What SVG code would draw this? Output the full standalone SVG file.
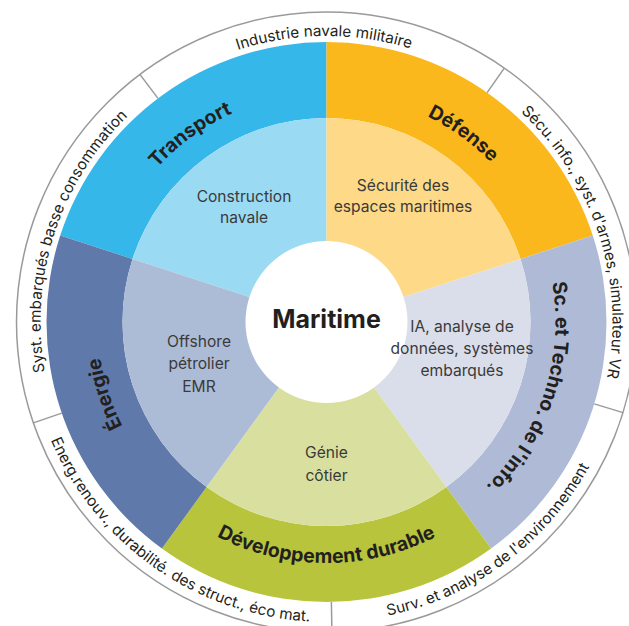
<svg xmlns="http://www.w3.org/2000/svg" width="629" height="626" viewBox="0 0 629 626">
<style>
.cat{font-family:Inter,"Liberation Sans",sans-serif;font-weight:700;font-size:19.5px;fill:#231f20}
.sub{font-family:Inter,"Liberation Sans",sans-serif;font-size:15.6px;fill:#3a3a3a;text-anchor:middle}
.out{font-family:Inter,"Liberation Sans",sans-serif;font-size:15.3px;fill:#231f20}
.sep{stroke:#9a9a9a;stroke-width:1.5;fill:none}
</style>
<defs>
<path id="pTransport" d="M 98.755 345.937 A 229 229 0 0 1 419.643 112.798"/>
<path id="pDefense" d="M 233.357 112.798 A 229 229 0 0 1 554.245 345.937"/>
<path id="pSc" d="M 496.680 168.769 A 229 229 0 0 1 374.112 545.996"/>
<path id="pEnergie" d="M 278.888 545.996 A 229 229 0 0 1 156.320 168.769"/>
<path id="pDev" d="M 117.788 442.5 A 241 241 0 0 0 535.212 442.5"/>
<path id="pIndustrie" d="M 44.422 274.796 A 286 286 0 0 1 607.711 269.881"/>
<path id="pSecu" d="M 286.697 38.783 A 286 286 0 0 1 460.769 574.523"/>
<path id="pSyst" d="M 192.231 574.523 A 286 286 0 0 1 366.303 38.783"/>
<path id="pSurv" d="M 119.993 539.612 A 300 300 0 0 0 594.980 188.141"/>
<path id="pEnerg" d="M 54.608 195.215 A 300 300 0 0 0 538.632 534.132"/>
</defs>

<g id="outer-ring">
<circle cx="326.5" cy="322" r="310" fill="#ffffff" stroke="#9a9a9a" stroke-width="1.5"/>
</g>

<g id="connectors">
<line class="sep" x1="157.992" y1="98.382" x2="139.9" y2="74.4"/>
<line class="sep" x1="487.101" y1="92.637" x2="504.3" y2="68.1"/>
<line class="sep" x1="594.265" y1="403.864" x2="623.0" y2="412.6"/>
<line class="sep" x1="331.387" y1="601.957" x2="331.9" y2="632"/>
<line class="sep" x1="61.755" y1="413.159" x2="33.4" y2="422.9"/>
</g>

<g id="maritime">
<circle cx="326.5" cy="322" r="81" fill="#ffffff"/>
<text x="326.5" y="327.5" text-anchor="middle" font-family="Inter, 'Liberation Sans', sans-serif" font-weight="700" font-size="25" fill="#231f20">Maritime</text>
</g>

<g id="transport">
<path d="M 60.204 235.475 A 280 280 0 0 1 326.5 42 L 326.5 118 A 204 204 0 0 0 132.484 258.961 Z" fill="#35b7ea"/>
<path d="M 132.484 258.961 A 204 204 0 0 1 326.5 118 L 326.5 241 A 81 81 0 0 0 249.464 296.970 Z" fill="#9bdaf3"/>
<text class="cat"><textPath href="#pTransport" startOffset="50%" text-anchor="middle">Transport</textPath></text>
<text class="sub"><tspan x="244" y="201.5">Construction</tspan><tspan x="244" y="223">navale</tspan></text>
</g>

<g id="defense">
<path d="M 326.5 42 A 280 280 0 0 1 592.796 235.475 L 520.516 258.961 A 204 204 0 0 0 326.5 118 Z" fill="#fbb81c"/>
<path d="M 326.5 118 A 204 204 0 0 1 520.516 258.961 L 403.536 296.970 A 81 81 0 0 0 326.5 241 Z" fill="#fdd988"/>
<text class="cat"><textPath href="#pDefense" startOffset="50%" text-anchor="middle">Défense</textPath></text>
<text class="sub"><tspan x="403" y="190.5">Sécurité des</tspan><tspan x="403" y="212">espaces maritimes</tspan></text>
</g>

<g id="sc-techno">
<path d="M 592.796 235.475 A 280 280 0 0 1 491.080 548.525 L 446.408 487.039 A 204 204 0 0 0 520.516 258.961 Z" fill="#afbbd6"/>
<path d="M 520.516 258.961 A 204 204 0 0 1 446.408 487.039 L 374.111 387.530 A 81 81 0 0 0 403.536 296.970 Z" fill="#d9deea"/>
<text class="cat"><textPath href="#pSc" startOffset="50%" text-anchor="middle">Sc. et Techno. de l'info.</textPath></text>
<text class="sub"><tspan x="462" y="332">IA, analyse de</tspan><tspan x="462" y="354">données, systèmes</tspan><tspan x="462" y="376">embarqués</tspan></text>
</g>

<g id="developpement">
<path d="M 491.080 548.525 A 280 280 0 0 1 161.920 548.525 L 206.592 487.039 A 204 204 0 0 0 446.408 487.039 Z" fill="#b8c43c"/>
<path d="M 446.408 487.039 A 204 204 0 0 1 206.592 487.039 L 278.889 387.530 A 81 81 0 0 0 374.111 387.530 Z" fill="#d9e09f"/>
<text class="cat"><textPath href="#pDev" startOffset="50%" text-anchor="middle">Développement durable</textPath></text>
<text class="sub"><tspan x="326.5" y="457.5">Génie</tspan><tspan x="326.5" y="481">côtier</tspan></text>
</g>

<g id="energie">
<path d="M 161.920 548.525 A 280 280 0 0 1 60.204 235.475 L 132.484 258.961 A 204 204 0 0 0 206.592 487.039 Z" fill="#5e79aa"/>
<path d="M 206.592 487.039 A 204 204 0 0 1 132.484 258.961 L 249.464 296.970 A 81 81 0 0 0 278.889 387.530 Z" fill="#adbcd6"/>
<text class="cat"><textPath href="#pEnergie" startOffset="50%" text-anchor="middle">Énergie</textPath></text>
<text class="sub"><tspan x="199" y="346.5">Offshore</tspan><tspan x="199" y="369">pétrolier</tspan><tspan x="199" y="391.5">EMR</tspan></text>
</g>

<g id="outer-labels">
<text class="out"><textPath href="#pIndustrie" startOffset="50%" text-anchor="middle">Industrie navale militaire</textPath></text>
<text class="out"><textPath href="#pSecu" startOffset="50%" text-anchor="middle">Sécu. info., syst. d'armes, simulateur VR</textPath></text>
<text class="out"><textPath href="#pSurv" startOffset="50%" text-anchor="middle">Surv. et analyse de l'environnement</textPath></text>
<text class="out"><textPath href="#pEnerg" startOffset="50%" text-anchor="middle">Energ.renouv., durabilité. des struct., éco mat.</textPath></text>
<text class="out"><textPath href="#pSyst" startOffset="50%" text-anchor="middle">Syst. embarqués basse consommation</textPath></text>
</g>
</svg>
